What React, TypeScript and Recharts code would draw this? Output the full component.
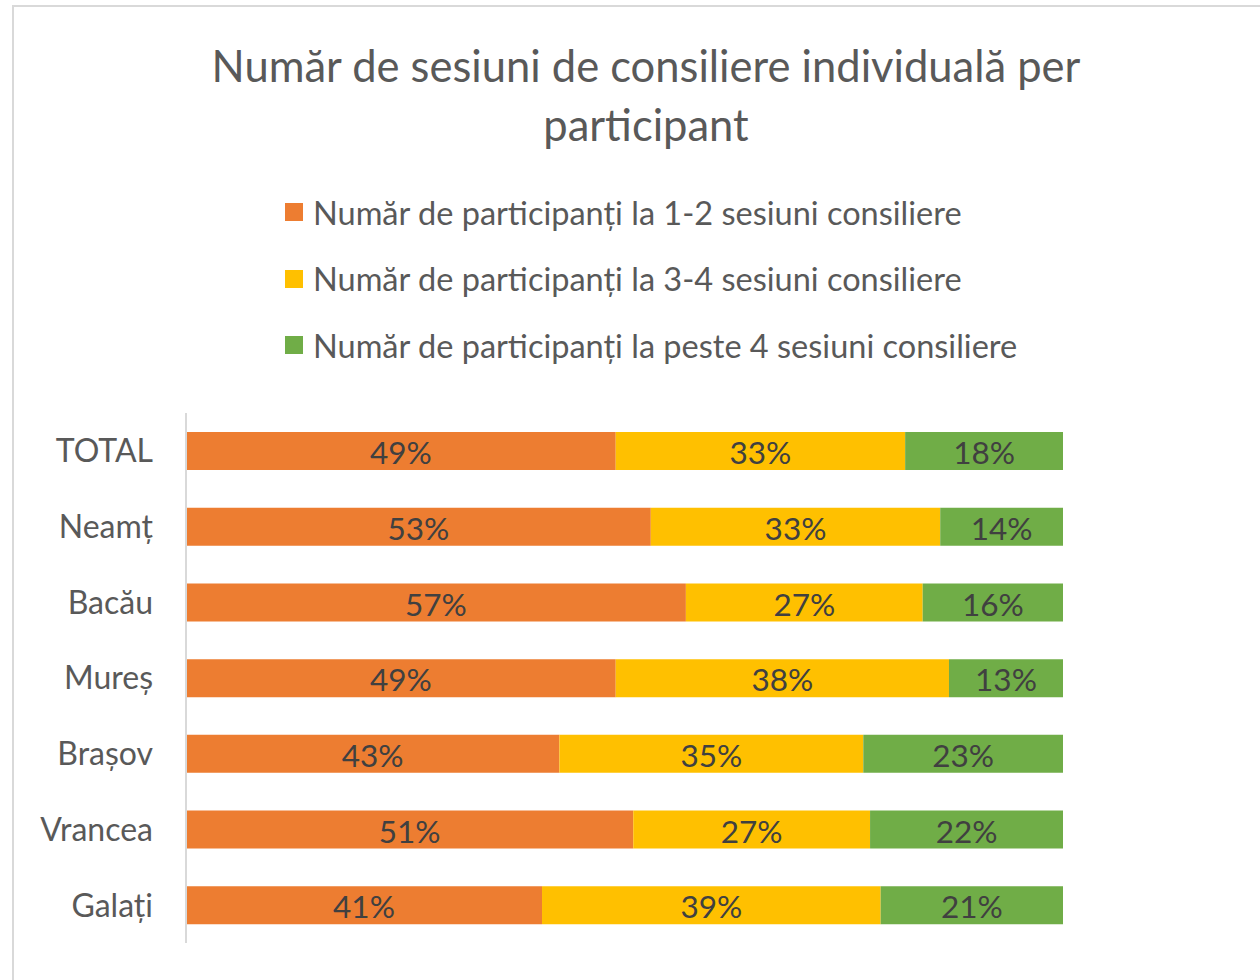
import { Bar, BarChart, LabelList, XAxis, YAxis } from "recharts"

const categories = ["TOTAL", "Neamț", "Bacău", "Mureș", "Brașov", "Vrancea", "Galați"]
const oneTwo = [49, 53, 57, 49, 43, 51, 41]
const threeFour = [33, 33, 27, 38, 35, 27, 39]
const overFour = [18, 14, 16, 13, 23, 22, 21]

const seriesNames = [
  "Număr de participanți la 1-2 sesiuni consiliere",
  "Număr de participanți la 3-4 sesiuni consiliere",
  "Număr de participanți la peste 4 sesiuni consiliere",
]
const colors = ["#ed7d31", "#ffc000", "#70ad47"]

const data = categories.map((name, i) => ({
  name,
  a: oneTwo[i],
  b: threeFour[i],
  c: overFour[i],
}))

const font = "Lato, 'Open Sans', sans-serif"
const keys = ["a", "b", "c"]

export default function App() {
  return (
    <div
      style={{
        position: "relative",
        width: 1260,
        height: 980,
        overflow: "hidden",
        background: "#fff",
        fontFamily: font,
      }}
    >
      <style>{"body{margin:0}"}</style>
      <div
        style={{
          position: "absolute",
          left: 12,
          top: 5,
          width: 1300,
          height: 1000,
          border: "2px solid #d9d9d9",
        }}
      />
      <div
        style={{
          position: "absolute",
          left: 146,
          width: 1000,
          top: 36,
          textAlign: "center",
          color: "#595959",
          fontSize: 43.5,
          lineHeight: "59px",
        }}
      >
        Număr de sesiuni de consiliere individuală per
        <br />
        participant
      </div>
      <div style={{ position: "absolute", left: 285, top: 179 }}>
        {seriesNames.map((s, i) => (
          <div
            key={s}
            style={{
              display: "flex",
              alignItems: "center",
              height: 66.5,
              color: "#595959",
              fontSize: 32.5,
              whiteSpace: "nowrap",
            }}
          >
            <span
              style={{
                display: "inline-block",
                width: 18,
                height: 18,
                background: colors[i],
                marginRight: 10,
              }}
            />
            {s}
          </div>
        ))}
      </div>
      <div style={{ position: "absolute", left: 0, top: 0 }}>
        <BarChart
          width={1260}
          height={980}
          data={data}
          layout="vertical"
          stackOffset="expand"
          barSize={38}
          margin={{ top: 413, right: 197, bottom: 37, left: 0 }}
        >
          <XAxis type="number" hide domain={[0, 1]} />
          <YAxis
            type="category"
            dataKey="name"
            width={186}
            tickLine={false}
            tickSize={0}
            tickMargin={33}
            axisLine={{ stroke: "#d9d9d9", strokeWidth: 2 }}
            tick={{ fill: "#595959", fontSize: 32, fontFamily: font }}
          />
          {keys.map((k, i) => (
            <Bar
              key={k}
              dataKey={k}
              stackId="s"
              fill={colors[i]}
              isAnimationActive={false}
            >
              <LabelList
                dataKey={k}
                position="center"
                formatter={(v: number) => `${v}%`}
                fill="#404040"
                fontSize={31.5}
                fontFamily={font}
                dy={2}
              />
            </Bar>
          ))}
        </BarChart>
      </div>
    </div>
  )
}
